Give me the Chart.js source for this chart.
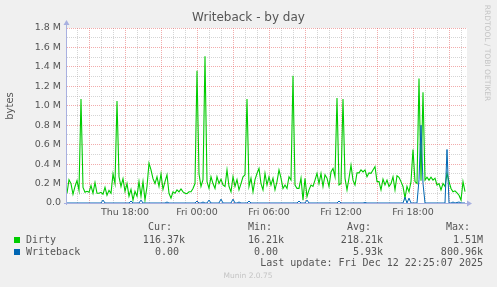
<!DOCTYPE html>
<html>
<head>
<meta charset="utf-8">
<script src="https://cdn.jsdelivr.net/npm/chart.js@4/dist/chart.umd.min.js"></script>
<style>
html,body{margin:0;padding:0;background:#f0f0f0;}
canvas{display:block;}
</style>
</head>
<body>
<canvas id="c" width="497" height="287"></canvas>
<script>
// ---- data (values in k bytes), one sample every 10 min starting Thu 13:10 ----
const startMinute = 790;      // minutes since Thu 00:00
const stepMinutes = 10;
const axisStart = 790, axisEnd = 2790;
const dirtyK = [
  100,240,200,90,170,230,130,1070,160,110,
  120,110,180,100,210,100,100,110,90,160,
  80,130,100,300,200,1050,270,170,250,120,
  200,70,140,30,120,70,220,70,220,30,
  170,410,340,250,200,270,170,300,140,220,
  290,100,50,115,100,135,115,145,115,100,
  95,115,115,150,200,1360,300,170,240,1510,
  220,150,270,200,150,270,200,245,185,170,
  340,170,115,270,170,240,135,200,270,290,
  1070,170,255,115,240,305,355,200,135,305,
  185,270,185,255,135,220,340,255,150,185,
  150,270,235,1310,185,150,150,255,30,255,
  65,135,185,170,235,305,200,305,170,290,
  255,170,320,355,270,1080,185,200,1070,255,
  135,255,390,235,185,310,310,340,320,340,
  270,310,305,340,375,220,220,135,245,185,
  235,170,200,270,135,280,265,220,170,50,
  170,115,220,550,220,200,1280,230,1140,235,
  265,235,265,235,255,185,200,135,200,170,
  305,220,150,115,125,105,80,30,220,116
];
const writebackK = [
  0,0,0,0,0,0,0,0,0,0,
  0,0,0,0,0,0,0,0,30,0,
  0,0,0,0,0,0,0,0,0,0,
  0,0,20,0,0,0,0,30,0,0,
  0,0,0,0,0,0,0,0,0,0,
  10,0,0,0,0,0,0,0,0,0,
  0,0,0,0,0,20,0,0,10,0,
  0,30,0,0,0,0,0,40,0,0,
  0,0,0,40,0,0,10,0,0,0,
  0,20,0,0,0,0,0,0,0,0,
  0,0,0,0,0,0,0,0,0,0,
  0,0,0,0,0,0,20,0,0,0,
  30,0,0,0,0,0,0,0,0,0,
  0,0,0,0,0,0,20,0,0,0,
  0,0,0,0,0,0,0,0,0,5,
  0,0,0,0,0,0,0,0,0,0,
  0,0,0,0,0,0,0,0,0,60,
  0,50,0,0,0,0,240,800,200,0,
  0,0,0,0,0,0,0,0,0,0,
  550,0,0,10,0,5,10,0,0,0
];
const seriesNames = ['Dirty', 'Writeback'];
const seriesColors = ['#00cc00', '#0066b3'];
const legendHeaders = ['Cur:', 'Min:', 'Avg:', 'Max:'];
const dirtyStats = ['116.37k', '16.21k', '218.21k', '1.51M'];
const writebackStats = ['0.00 ', '0.00 ', '5.93k', '800.96k'];
const xTickLabels = {1080:'Thu 18:00', 1440:'Fri 00:00', 1800:'Fri 06:00', 2160:'Fri 12:00', 2520:'Fri 18:00'};
const yTickLabels = {0:'0.0', 200000:'0.2 M', 400000:'0.4 M', 600000:'0.6 M', 800000:'0.8 M', 1000000:'1.0 M', 1200000:'1.2 M', 1400000:'1.4 M', 1600000:'1.6 M', 1800000:'1.8 M'};
const titleText = 'Writeback - by day';
const yAxisTitle = 'bytes';
const lastUpdate = 'Last update: Fri Dec 12 22:25:07 2025';
const footer = 'Munin 2.0.75';
const sideText = 'RRDTOOL / TOBI OETIKER';

const toPoints = arr => arr.map((v, i) => ({x: startMinute + i * stepMinutes, y: v * 1000}));

const FONT = '"DejaVu Sans", sans-serif';
const MONO = '"DejaVu Sans Mono", monospace';
const TXT = '#555555';
const MAJOR = 'rgba(230,90,90,0.5)';
const MINOR = 'rgba(150,150,150,0.4)';
const AXIS = '#a8b0e0';

const decor = {
  id: 'decor',
  beforeDraw(chart) {
    const {ctx, chartArea: a} = chart;
    ctx.save();
    ctx.fillStyle = '#f0f0f0';
    ctx.fillRect(0, 0, chart.width, chart.height);
    ctx.fillStyle = '#ffffff';
    ctx.fillRect(a.left, a.top, a.right - a.left, a.bottom - a.top);
    ctx.restore();
  },
  afterDatasetsDraw(chart) {
    const {ctx, chartArea: a} = chart;
    ctx.save();
    // axes with arrows
    ctx.strokeStyle = AXIS; ctx.fillStyle = AXIS; ctx.lineWidth = 1;
    ctx.beginPath();
    ctx.moveTo(a.left - 0.5, a.bottom + 2); ctx.lineTo(a.left - 0.5, a.top - 4);
    ctx.moveTo(a.left - 3, a.bottom + 0.5); ctx.lineTo(a.right + 1, a.bottom + 0.5);
    ctx.stroke();
    ctx.beginPath();
    ctx.moveTo(a.left - 0.5, a.top - 8); ctx.lineTo(a.left - 3.5, a.top - 3); ctx.lineTo(a.left + 2.5, a.top - 3); ctx.closePath(); ctx.fill();
    ctx.beginPath();
    ctx.moveTo(a.right + 5, a.bottom + 0.5); ctx.lineTo(a.right, a.bottom - 2.5); ctx.lineTo(a.right, a.bottom + 3.5); ctx.closePath(); ctx.fill();

    // title
    ctx.fillStyle = TXT;
    ctx.font = '12px ' + FONT;
    ctx.textAlign = 'center'; ctx.textBaseline = 'middle';
    ctx.fillText(titleText, 248.5, 18);
    // y axis title
    ctx.save();
    ctx.translate(10, 106); ctx.rotate(-Math.PI / 2);
    ctx.font = '10px ' + FONT;
    ctx.fillText(yAxisTitle, 0, 0);
    ctx.restore();
    // side text
    ctx.save();
    ctx.translate(487, 53); ctx.rotate(Math.PI / 2);
    ctx.font = '7.5px ' + FONT; ctx.fillStyle = '#c4c4c4';
    ctx.fillText(sideText, 0, 0);
    ctx.restore();

    // legend
    ctx.font = '10px ' + MONO;
    ctx.fillStyle = TXT;
    ctx.textAlign = 'right';
    const hdrX = [172, 272, 371, 470];
    legendHeaders.forEach((h, i) => ctx.fillText(h, hdrX[i], 227.5));
    const valX = [185, 284, 383, 483];
    const rows = [dirtyStats, writebackStats];
    const rowY = [240, 252];
    rows.forEach((r, ri) => {
      ctx.fillStyle = seriesColors[ri];
      ctx.fillRect(14, rowY[ri] - 3, 6, 6);
      ctx.fillStyle = TXT;
      ctx.textAlign = 'left';
      ctx.fillText(seriesNames[ri], 26, rowY[ri]);
      ctx.textAlign = 'right';
      r.forEach((v, i) => ctx.fillText(v, valX[i], rowY[ri]));
    });
    ctx.fillText(lastUpdate, 483, 263.5);
    ctx.textAlign = 'center';
    ctx.font = '7.5px ' + FONT; ctx.fillStyle = '#c4c4c4';
    ctx.fillText(footer, 248, 276.5);
    ctx.restore();
  }
};

new Chart(document.getElementById('c'), {
  type: 'line',
  data: {
    datasets: [
      {label: seriesNames[1], data: toPoints(writebackK), borderColor: seriesColors[1], borderWidth: 1, pointRadius: 0, tension: 0, order: 0},
      {label: seriesNames[0], data: toPoints(dirtyK), borderColor: seriesColors[0], borderWidth: 1.1, pointRadius: 0, tension: 0, order: 1}
    ]
  },
  options: {
    responsive: false,
    devicePixelRatio: 1,
    animation: false,
    events: [],
    layout: {padding: {left: 0, right: 30, top: 28, bottom: 0}},
    plugins: {legend: {display: false}, tooltip: {enabled: false}, title: {display: false}},
    scales: {
      x: {
        type: 'linear', min: axisStart, max: axisEnd,
        afterBuildTicks(s) { const t = []; for (let v = 840; v < axisEnd; v += 60) t.push({value: v}); s.ticks = t; },
        afterFit(s) { s.height = 84; },
        border: {display: false, dash: [1, 1]},
        grid: {drawTicks: false, lineWidth: 1, color: c => (c.tick && c.tick.value % 180 === 0) ? MAJOR : MINOR},
        ticks: {autoSkip: false, maxRotation: 0, padding: 4, color: TXT, font: {family: FONT, size: 9.5},
          callback: v => xTickLabels[v] || ''}
      },
      y: {
        type: 'linear', min: 0, max: 1800000,
        afterBuildTicks(s) { const t = []; for (let v = 100000; v <= 1800000; v += 100000) t.push({value: v}); t.unshift({value: 0}); s.ticks = t; },
        afterFit(s) { s.width = 67; },
        border: {display: false, dash: [1, 1]},
        grid: {drawTicks: false, lineWidth: 1, color: c => (c.tick && c.tick.value === 0) ? 'rgba(0,0,0,0)' : (c.tick && c.tick.value % 200000 === 0) ? MAJOR : MINOR},
        ticks: {autoSkip: false, padding: 6, color: TXT, font: {family: FONT, size: 9.5},
          callback: v => (yTickLabels[v] !== undefined ? yTickLabels[v] : '')}
      }
    }
  },
  plugins: [decor]
});
</script>
</body>
</html>
